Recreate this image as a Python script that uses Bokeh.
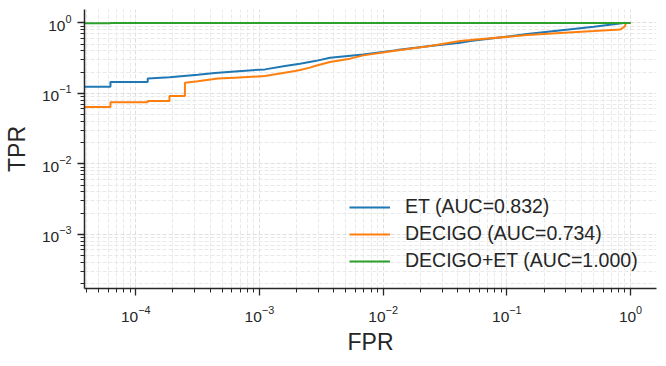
from bokeh.plotting import figure
from bokeh.models import FixedTicker, LogTickFormatter, Legend, LegendItem
from bokeh.embed import file_html
from bokeh.resources import INLINE

# ---- data ----
et_fpr = [1e-8, 6.25e-5, 6.25e-5, 1.25e-4, 1.25e-4, 1.88e-4, 3.18e-4, 4.36e-4, 6.33e-4,
          1.11e-3, 1.61e-3, 2.13e-3, 2.81e-3, 3.72e-3, 6.92e-3, 0.0129, 0.024, 0.042,
          0.0506, 0.146, 0.505, 0.883, 1.0]
et_tpr = [0.124, 0.124, 0.145, 0.145, 0.163, 0.170, 0.184, 0.194, 0.205,
          0.219, 0.244, 0.264, 0.287, 0.321, 0.357, 0.411, 0.469, 0.524,
          0.552, 0.694, 0.883, 1.0, 1.0]

decigo_fpr = [1e-8, 6.25e-5, 6.25e-5, 1.25e-4, 1.25e-4, 1.875e-4, 1.875e-4, 2.5e-4, 2.5e-4,
              3.18e-4, 4.61e-4, 6.33e-4, 1.11e-3, 1.94e-3, 2.13e-3, 2.56e-3, 2.81e-3,
              3.72e-3, 5.4e-3, 6.92e-3, 0.0129, 0.024, 0.042, 0.0506, 0.146, 0.505,
              0.83, 0.894, 0.923, 1.0]
decigo_tpr = [0.064, 0.064, 0.075, 0.075, 0.078, 0.078, 0.0916, 0.0916, 0.142,
              0.149, 0.162, 0.167, 0.176, 0.207, 0.214, 0.232, 0.244,
              0.278, 0.311, 0.346, 0.407, 0.469, 0.555, 0.570, 0.671, 0.765,
              0.809, 0.883, 1.0, 1.0]

both_fpr = [1e-8, 6.25e-5, 6.25e-5, 1.0]
both_tpr = [0.985, 0.985, 1.0, 1.0]

labels = ["ET (AUC=0.832)", "DECIGO (AUC=0.734)", "DECIGO+ET (AUC=1.000)"]
colors = ["#1f77b4", "#ff7f0e", "#2ca02c"]

x_major = [1e-4, 1e-3, 1e-2, 1e-1, 1.0]
y_major = [1e-3, 1e-2, 1e-1, 1.0]

FONT = "Liberation Sans"
TXT = "#262626"

p = figure(width=657, height=359, output_backend="svg", toolbar_location=None,
           x_axis_type="log", y_axis_type="log",
           x_range=(3.855e-5, 1.622), y_range=(1.70e-4, 1.55),
           min_border_left=84, min_border_right=1, min_border_top=9, min_border_bottom=71)
p.outline_line_color = None
p.background_fill_color = "white"

x_minor = [k * 10.0 ** e for e in range(-5, 1) for k in range(2, 10)]
y_minor = [k * 10.0 ** e for e in range(-4, 1) for k in range(2, 10)]
p.xaxis.ticker = FixedTicker(ticks=x_major, minor_ticks=x_minor)
p.yaxis.ticker = FixedTicker(ticks=y_major, minor_ticks=y_minor)
p.xaxis.formatter = LogTickFormatter()
p.yaxis.formatter = LogTickFormatter()

for ax in (p.xaxis, p.yaxis):
    ax.axis_line_color = TXT
    ax.axis_line_width = 1.5
    ax.major_tick_line_color = TXT
    ax.minor_tick_line_color = TXT
    ax.major_tick_line_width = 1.3
    ax.minor_tick_line_width = 1.0
    ax.major_tick_out = 7
    ax.major_tick_in = 0
    ax.minor_tick_out = 4
    ax.minor_tick_in = 0
    ax.major_label_text_font = FONT
    ax.major_label_text_font_size = "15.5px"
    ax.major_label_text_color = TXT
    ax.axis_label_text_font = FONT
    ax.axis_label_text_font_size = "23px"
    ax.axis_label_text_font_style = "normal"
    ax.axis_label_text_color = TXT

p.xaxis.axis_label = "FPR"
p.yaxis.axis_label = "TPR"
p.xaxis.major_label_standoff = 10
p.yaxis.major_label_standoff = 6
p.xaxis.axis_label_standoff = 4
p.yaxis.axis_label_standoff = 9

for g in (p.xgrid, p.ygrid):
    g.grid_line_color = "#dedede"
    g.grid_line_dash = "4 2"
    g.grid_line_width = 1
    g.minor_grid_line_color = "#e9e9e9"
    g.minor_grid_line_dash = "4 2"
    g.minor_grid_line_width = 1

r1 = p.line(et_fpr, et_tpr, line_color=colors[0], line_width=2)
r2 = p.line(decigo_fpr, decigo_tpr, line_color=colors[1], line_width=2)
r3 = p.line(both_fpr, both_tpr, line_color=colors[2], line_width=2)

legend = Legend(items=[LegendItem(label=labels[0], renderers=[r1]),
                       LegendItem(label=labels[1], renderers=[r2]),
                       LegendItem(label=labels[2], renderers=[r3])],
                location=(265, 16))
legend.glyph_width = 41
legend.glyph_height = 20
legend.label_standoff = 15
legend.label_height = 20
legend.spacing = 4
legend.padding = 0
legend.margin = 0
legend.border_line_alpha = 0
legend.background_fill_alpha = 0
legend.label_text_font = FONT
legend.label_text_font_size = "19.5px"
legend.label_text_color = TXT
p.add_layout(legend, "center")

open("out.html", "w").write(file_html(p, INLINE))
